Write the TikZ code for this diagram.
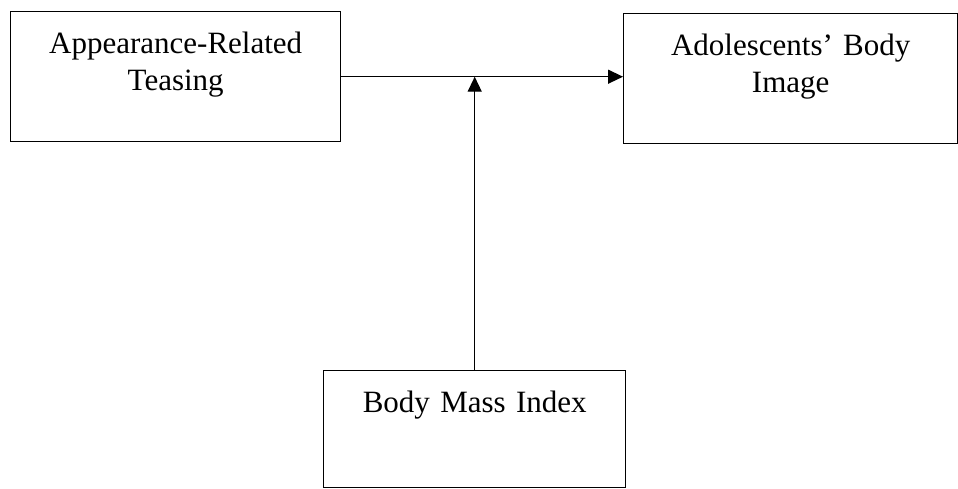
\documentclass[tikz,border=0pt]{standalone}
\usepackage{fontspec}
\setmainfont{Liberation Serif}
\usetikzlibrary{positioning,arrows.meta}

\begin{document}
\begin{tikzpicture}[x=1pt,y=1pt,line width=1.4pt,font=\fontsize{31}{37}\selectfont]
    \tikzstyle{block}=[draw,anchor=north west,align=center,inner sep=0pt,text height=42pt]
    \tikzstyle{edge} = [-{Triangle[length=15pt,width=14pt]}]

    \useasboundingbox (0,0) rectangle (958,-488);

    \node[block, text width=330pt, text depth=88pt] (teasing) at (10,-11) {Appearance-Related\\Teasing};
    \node[block, text width=334pt, text depth=88pt] (image) at (623,-13) {Adolescents' Body\\Image};
    \node[block, text width=302pt, text depth=75pt] (bmi) at (323,-370) {Body Mass Index};

    \draw[edge] (teasing.east) -- (teasing.east -| image.west);
    \draw[edge] (bmi.north) -- (bmi.north |- teasing.east);

    %\node (moderator) at (474,-200) {};
\end{tikzpicture}
\end{document}
